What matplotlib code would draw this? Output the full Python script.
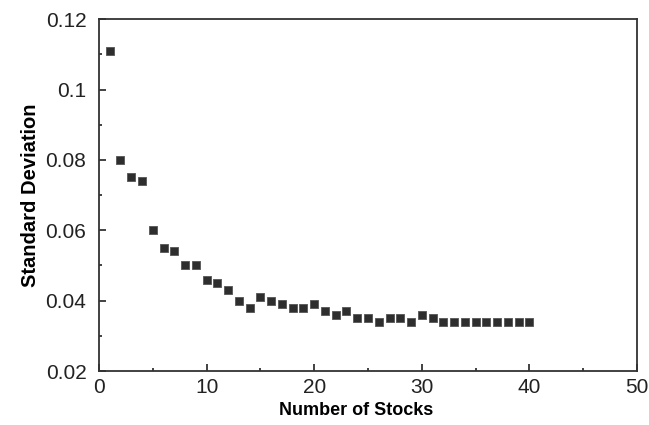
import numpy as np
import matplotlib.pyplot as plt
from matplotlib.ticker import MultipleLocator

# number of stocks in the portfolio and resulting standard deviation
n_stocks = list(range(1, 41))
std_dev = [0.111, 0.080, 0.075, 0.074, 0.060, 0.055, 0.054, 0.050, 0.050, 0.046,
           0.045, 0.043, 0.040, 0.038, 0.041, 0.040, 0.039, 0.038, 0.038, 0.039,
           0.037, 0.036, 0.037, 0.035, 0.035, 0.034, 0.035, 0.035, 0.034, 0.036,
           0.035, 0.034, 0.034, 0.034, 0.034, 0.034, 0.034, 0.034, 0.034, 0.034]

plt.rcParams['font.family'] = ['Liberation Sans', 'DejaVu Sans']

fig = plt.figure(figsize=(6.49, 4.25), dpi=100)
ax = fig.add_axes([0.1525, 0.127, 0.829, 0.828])

ax.scatter(n_stocks, std_dev, marker='s', s=30, color='#2e2e2e',
           edgecolors='#555555', linewidths=0.6, zorder=3)

ax.set_xlim(0, 50)
ax.set_ylim(0.02, 0.12)
ax.xaxis.set_major_locator(MultipleLocator(10))
ax.xaxis.set_minor_locator(MultipleLocator(5))
ax.yaxis.set_minor_locator(MultipleLocator(0.01))
ax.set_yticks([0.02, 0.04, 0.06, 0.08, 0.1, 0.12])
ax.set_yticklabels(['0.02', '0.04', '0.06', '0.08', '0.1', '0.12'])

ax.tick_params(which='both', direction='in', top=False, right=False,
               labelsize=15, colors='#222222', width=1.2)
ax.tick_params(which='major', length=5)
ax.tick_params(which='minor', length=2.5)
ax.tick_params(axis='y', which='major', pad=9)
ax.tick_params(axis='x', which='major', pad=5)
for s in ax.spines.values():
    s.set_linewidth(1.3)
    s.set_color('#333333')

ax.set_xlabel('Number of Stocks', fontsize=13, fontweight='bold')
ax.xaxis.set_label_coords(0.478, -0.088)
ax.set_ylabel('Standard Deviation', fontsize=14.5, fontweight='bold', labelpad=4)

fig.savefig('out.png', dpi=100)
